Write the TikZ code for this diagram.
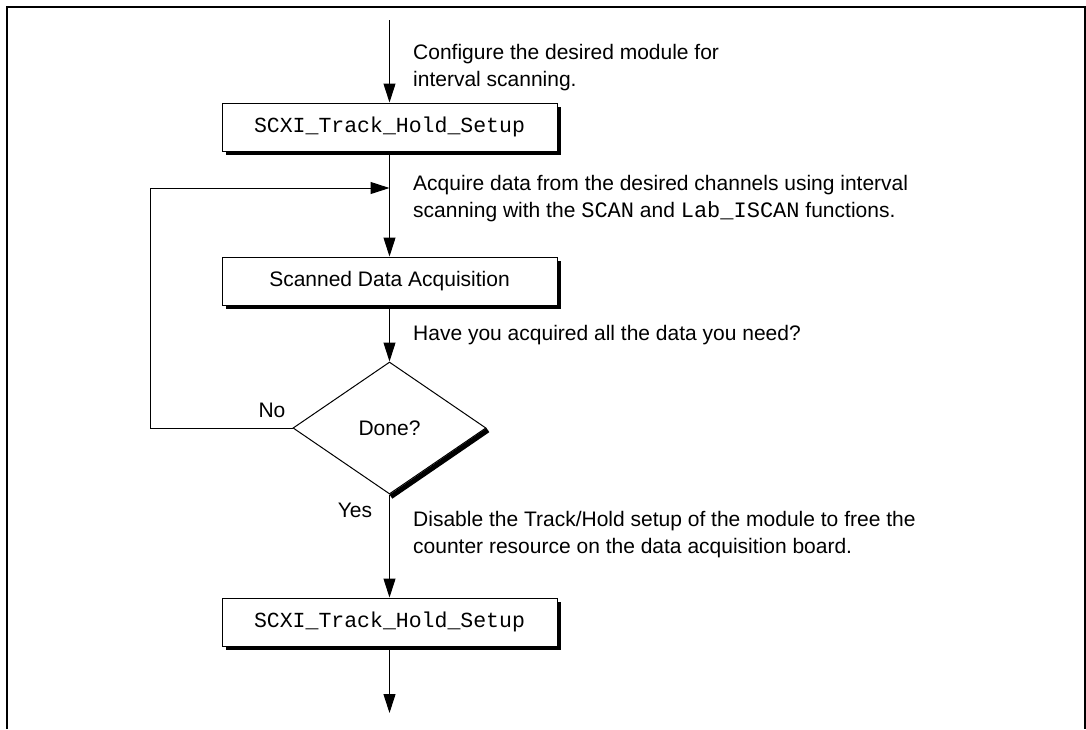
\documentclass[tikz,border=0pt]{standalone}
\usepackage{fontspec}
\setmainfont{Liberation Sans}
\setmonofont{Liberation Mono}
\usetikzlibrary{shapes.geometric,arrows.meta,shadows}
\begin{document}
\begin{tikzpicture}[x=1pt,y=-1pt,
  font=\fontsize{21}{27}\selectfont,
  flow/.style={line width=1pt, -{Triangle[length=19pt,width=12pt]}},
  link/.style={line width=1pt},
  procbox/.style={draw, line width=1pt, fill=white, minimum width=335pt, minimum height=48pt, inner sep=0pt,
    drop shadow={shadow xshift=4pt,shadow yshift=-4pt,fill=black,opacity=1}},
  monotext/.style={font=\ttfamily\fontsize{21.5}{25}\selectfont},
  note/.style={anchor=base west, align=left, inner sep=0pt},
  decision/.style={draw, diamond, line width=1pt, fill=white, minimum width=193pt, minimum height=132pt, inner sep=0pt},
  ]
\useasboundingbox (0,0) rectangle (1086,729);
\draw[line width=2pt] (7,729) -- (7,7) -- (1085,7) -- (1085,729);

\node[procbox, monotext] (s1) at (389.5,127) {SCXI\_Track\_Hold\_Setup};
\node[procbox] (s2) at (389.5,281) {Scanned Data Acquisition};
\node[decision] (d) at (389.5,428) {Done?};
\draw[line width=5pt] ([shift={(1.4,2.1)}]d.east) -- ([shift={(1.4,2.1)}]d.south);
\node[procbox, monotext] (s3) at (389.5,622) {SCXI\_Track\_Hold\_Setup};

\coordinate (top) at (389.5,20);
\coordinate (j) at (389.5,188);
\coordinate (lx) at (150,188);
\coordinate (bot) at (389.5,713);

\draw[flow] (top) -- (s1);
\draw[flow] (s1) -- (s2);
\draw[flow] (s2) -- (d);
\draw[flow] (d.west) -- (d.west -| lx) -- (lx) -- (j);
\draw[flow] (d.south) -- (s3);
\draw[flow] (s3) -- (bot);

\node[note] (t1) at (413,86) {Configure the desired module for\\interval scanning.};
\node[note] (t2) at (413,217) {Acquire data from the desired channels using interval\\scanning with the {\ttfamily\fontsize{22}{27}\selectfont SCAN} and {\ttfamily\fontsize{22}{27}\selectfont Lab\_ISCAN} functions.};
\node[note] (t3) at (413,340) {Have you acquired all the data you need?};
\node[note] (t4) at (413,553) {Disable the Track/Hold setup of the module to free the\\counter resource on the data acquisition board.};
\node (no) at (272,410) {No};
\node (yes) at (355,510) {Yes};
\end{tikzpicture}
\end{document}
